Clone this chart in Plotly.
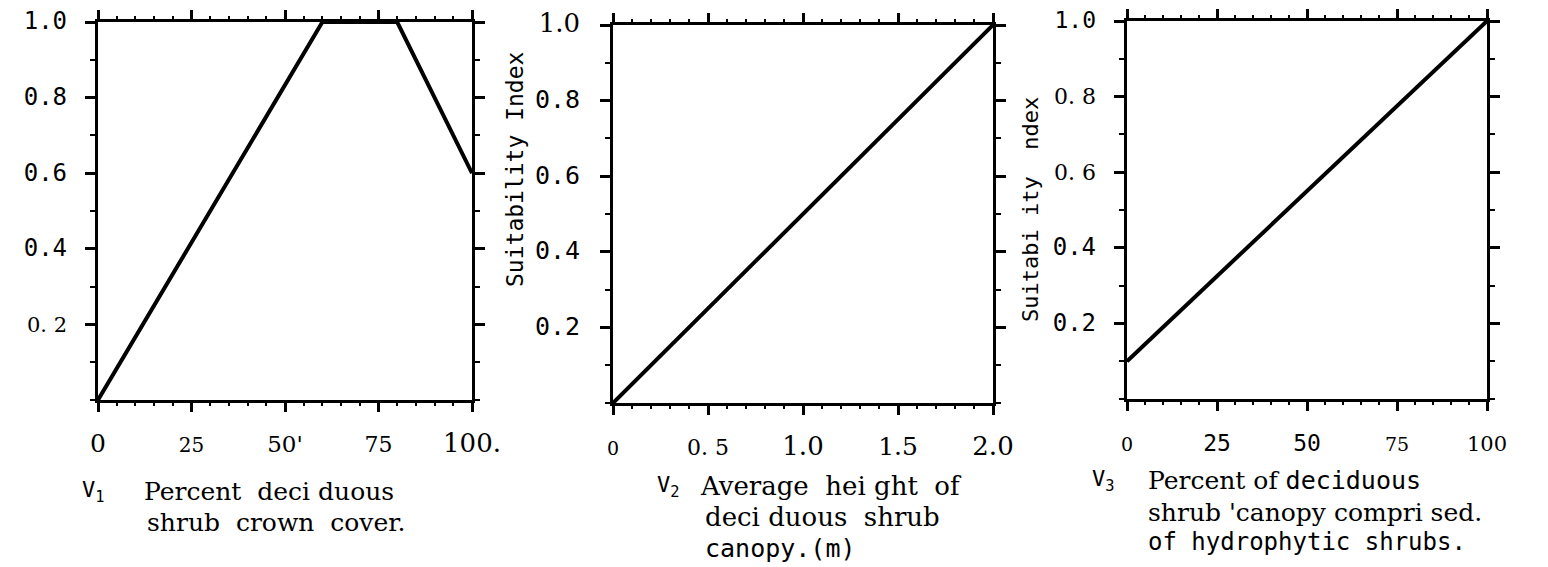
import plotly.graph_objects as go

W, H = 1548, 567

# ---- data ----
v1_pct = [0, 60, 80, 100]
v1_si = [0, 1.0, 1.0, 0.6]
v2_height = [0, 2.0]
v2_si = [0, 1.0]
v3_pct = [0, 100]
v3_si = [0.1, 1.0]

y_tickvals = [0.2, 0.4, 0.6, 0.8, 1.0]
SERIF = "DejaVu Serif"
MONO = "DejaVu Sans Mono"


def sp(txt, size, fam=SERIF):
    return f"<span style='font-size:{size}px;font-family:{fam}'>{txt}</span>"


y1_text = [sp("0. 2", 21), sp("0.4", 24, MONO), sp("0.6", 24, MONO), sp("0.8", 24, MONO), sp("1.0", 24, MONO)]
y2_text = [sp("0.2", 25, MONO), sp("0.4", 25, MONO), sp("0.6", 25, MONO), sp("0.8", 25, MONO), sp("1.0", 26)]
y3_text = [sp("0.2", 24, MONO), sp("0.4", 24, MONO), sp("0. 6", 22), sp("0. 8", 22), sp("1.0", 23, MONO)]

x1_vals = [0, 25, 50, 75, 100]
x1_text = [sp("0", 25), sp("25", 20), sp("50'", 23), sp("75", 22), sp("100.", 26)]
x2_vals = [0, 0.5, 1.0, 1.5, 2.0]
x2_text = [sp("0", 19), sp("0. 5", 22), sp("1.0", 26), sp("1.5", 25), sp("2.0", 26)]
x3_vals = [0, 25, 50, 75, 100]
x3_text = [sp("0", 19), sp("25", 23, MONO), sp("50", 23, MONO), sp("75", 19), sp("100", 21)]

fig = go.Figure()
line = dict(color="black", width=4)
fig.add_trace(go.Scatter(x=v1_pct, y=v1_si, mode="lines", line=line, xaxis="x", yaxis="y", cliponaxis=False, showlegend=False))
fig.add_trace(go.Scatter(x=v2_height, y=v2_si, mode="lines", line=line, xaxis="x2", yaxis="y2", cliponaxis=False, showlegend=False))
fig.add_trace(go.Scatter(x=v3_pct, y=v3_si, mode="lines", line=line, xaxis="x3", yaxis="y3", cliponaxis=False, showlegend=False))


def px_x(p):
    return p / W


def px_y(p):
    return 1 - p / H


def xaxis(l, r, rng, vals, text, anchor, minor_d):
    return dict(domain=[px_x(l), px_x(r)], range=rng, anchor=anchor, showline=True, linecolor="black",
                linewidth=2.5, mirror="allticks", ticks="outside", ticklen=9, tickwidth=2.5, tickcolor="black",
                tickvals=vals, ticktext=text, showgrid=False, zeroline=False, ticklabelstandoff=14,
                automargin=False,
                tickfont=dict(color="black", family=SERIF, size=22),
                minor=dict(dtick=minor_d, ticks="outside", ticklen=3, tickwidth=2, tickcolor="black", showgrid=False))


def yaxis(t, b, text, anchor, standoff):
    return dict(domain=[px_y(b), px_y(t)], range=[0, 1], anchor=anchor, showline=True, linecolor="black",
                linewidth=2.5, mirror="allticks", ticks="outside", ticklen=10, tickwidth=2.5, tickcolor="black",
                tickvals=y_tickvals, ticktext=text, showgrid=False, zeroline=False, ticklabelstandoff=standoff,
                automargin=False,
                tickfont=dict(color="black", family=MONO, size=21),
                minor=dict(dtick=0.1, ticks="outside", ticklen=5, tickwidth=2, tickcolor="black", showgrid=False))


annotations = []


def note(txt, x, y, size=22, fam=SERIF, angle=0, xanchor="left"):
    annotations.append(dict(text=txt, x=px_x(x), y=px_y(y), xref="paper", yref="paper", showarrow=False,
                            xanchor=xanchor, yanchor="middle", textangle=angle,
                            font=dict(family=fam, size=size, color="black")))


# y-axis titles
note("Suitability Index", 515, 170, size=23, fam=MONO, angle=-90, xanchor="center")
note("Suitabi ity  ndex", 1030, 210, size=22, fam=MONO, angle=-90, xanchor="center")

# captions panel 1
note("V<sub>1</sub>", 80, 491, size=22, fam=MONO)
note("Percent  deci duous", 142, 491, size=25)
note("shrub  crown  cover.", 145, 522, size=25)
# captions panel 2
note("V<sub>2</sub>", 655, 486, size=22, fam=MONO)
note("Average  hei ght  of", 698, 486, size=26)
note("deci duous  shrub", 703, 517, size=26)
note("canopy.(m)", 703, 548, size=25, fam=MONO)
# captions panel 3
note("V<sub>3</sub>", 1090, 480, size=22, fam=MONO)
note("Percent of " + "<span style='font-family:DejaVu Sans Mono'>deciduous</span>", 1146, 480, size=25)
note("shrub 'canopy compri sed.", 1146, 512, size=25)
note("of hydrophytic shrubs.", 1146, 542, size=24, fam=MONO)

fig.update_layout(
    width=W, height=H, margin=dict(l=0, r=0, t=0, b=0, autoexpand=False),
    paper_bgcolor="white", plot_bgcolor="white", showlegend=False,
    xaxis=xaxis(98, 472, [0, 100], x1_vals, x1_text, "y", 5),
    yaxis=yaxis(22, 400, y1_text, "x", 14),
    xaxis2=xaxis(613, 993, [0, 2.0], x2_vals, x2_text, "y2", 0.1),
    yaxis2=yaxis(25, 403, y2_text, "x2", 16),
    xaxis3=xaxis(1127, 1487, [0, 100], x3_vals, x3_text, "y3", 5),
    yaxis3=yaxis(21, 399, y3_text, "x3", 14),
    annotations=annotations,
)

fig.write_html("out.html")
